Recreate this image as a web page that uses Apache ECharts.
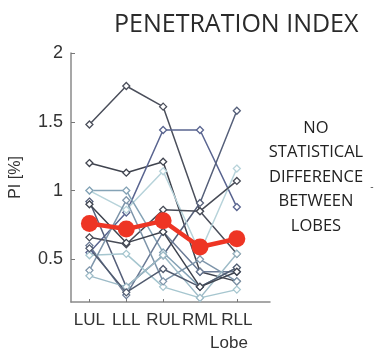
<!DOCTYPE html>
<html><head><meta charset="utf-8">
<script src="https://cdn.jsdelivr.net/npm/echarts@6/dist/echarts.min.js"></script>
<style>html,body{margin:0;padding:0;background:#fff}#c{width:391px;height:350px}</style>
</head><body><div id="c"></div>
<script>
var categories = ['LUL', 'LLL', 'RUL', 'RML', 'RLL'];
var yTicks = [0.5, 1, 1.5, 2];
var meanPI = [0.76, 0.72, 0.78, 0.59, 0.65];
var subj1 = [1.48, 1.76, 1.61, 0.85, 0.54];
var subj2 = [1.20, 1.13, 1.21, 0.41, 0.34];
var subj3 = [0.55, 0.84, 1.44, 1.44, 0.88];
var subj4 = [0.92, 0.30, 0.53, 0.91, 1.58];
var subj5 = [1.00, 0.86, 1.14, 0.55, 1.16];
var subj6 = [1.00, 1.00, 0.55, 0.30, 0.44];
var subj7 = [0.66, 0.61, 0.86, 0.85, 1.07];
var subj8 = [0.60, 0.24, 0.70, 0.41, 0.41];
var subj9 = [0.53, 0.54, 0.30, 0.22, 0.28];
var subj10 = [0.42, 0.93, 0.34, 0.50, 0.34];
var subj11 = [0.38, 0.30, 0.53, 0.22, 0.54];
var subj12 = [0.58, 0.26, 0.43, 0.30, 0.44];
var subj13 = [0.90, 0.62, 0.70, 0.30, 0.41];
var subjects = [subj1, subj2, subj3, subj4, subj5, subj6, subj7, subj8, subj9, subj10, subj11, subj12, subj13];
var subjColors = ['#4b4f5b', '#40444f', '#5a6590', '#56607a', '#b7d3da', '#85a3b6', '#474b56', '#6b7b96', '#a6c6cf', '#7e95aa', '#9dbbc7', '#515b6f', '#3e434e'];

function pts(arr) { return arr.map(function (v, i) { return [i + 1, v]; }); }

var series = subjects.map(function (arr, k) {
  var c = subjColors[k];
  return {
    type: 'line', data: pts(arr), symbol: 'diamond', symbolSize: 7,
    lineStyle: { color: c, width: 1.5 },
    itemStyle: { color: '#fff', borderColor: c, borderWidth: 1.3 },
    emphasis: { disabled: true }, z: 2, animation: false
  };
});
series.push({
  type: 'line', data: pts(meanPI), symbol: 'circle', symbolSize: 17,
  lineStyle: { color: '#ee3524', width: 4.5 },
  itemStyle: { color: '#ee3524' },
  emphasis: { disabled: true }, z: 10, animation: false
});

var chart = echarts.init(document.getElementById('c'));
chart.setOption({
  animation: false,
  grid: { left: 68, right: 121, top: 53, bottom: 48 },
  xAxis: {
    type: 'value', min: 0.5, max: 5.9,
    splitLine: { show: false },
    axisLine: { lineStyle: { color: '#8a8a8a', width: 1.5 } },
    axisTick: { inside: true, length: 3, customValues: [1, 2, 3, 4, 5], lineStyle: { color: '#777' } },
    axisLabel: {
      customValues: [1, 2, 3, 4, 5], color: '#333', fontSize: 17,
      fontFamily: 'Liberation Sans', margin: 10,
      formatter: function (v) { return categories[Math.round(v) - 1] || ''; }
    }
  },
  yAxis: {
    type: 'value', min: 0.19, max: 2,
    name: 'PI [%]', nameLocation: 'middle', nameGap: 47,
    nameTextStyle: { color: '#333', fontSize: 16, fontFamily: 'Liberation Sans' },
    splitLine: { show: false },
    axisLine: { show: true, lineStyle: { color: '#8a8a8a', width: 1.5 } },
    axisTick: { show: true, inside: true, length: 4, customValues: yTicks, lineStyle: { color: '#777' } },
    axisLabel: {
      customValues: yTicks, color: '#333', fontSize: 18, fontFamily: 'Liberation Sans', margin: 8,
      formatter: function (v) { return String(v); }
    }
  },
  series: series,
  graphic: [
    { type: 'text', left: 114, top: 12, style: { text: 'PENETRATION INDEX', fontSize: 25, fontFamily: 'Open Sans', fill: '#2a2a2a' } },
    { type: 'text', x: 316, y: 177, style: { text: 'NO\nSTATISTICAL\nDIFFERENCE\nBETWEEN\nLOBES', fontSize: 16.5, lineHeight: 24.5, fontFamily: 'Open Sans', fill: '#222', align: 'center', verticalAlign: 'middle' } },
    { type: 'text', x: 372, y: 187, style: { text: '-', fontSize: 10, fill: '#555', align: 'center', verticalAlign: 'middle' } },
    { type: 'text', x: 229, y: 343, style: { text: 'Lobe', fontSize: 17, fontFamily: 'Liberation Sans', fill: '#333', align: 'center', verticalAlign: 'middle' } }
  ]
});
</script>
</body></html>
